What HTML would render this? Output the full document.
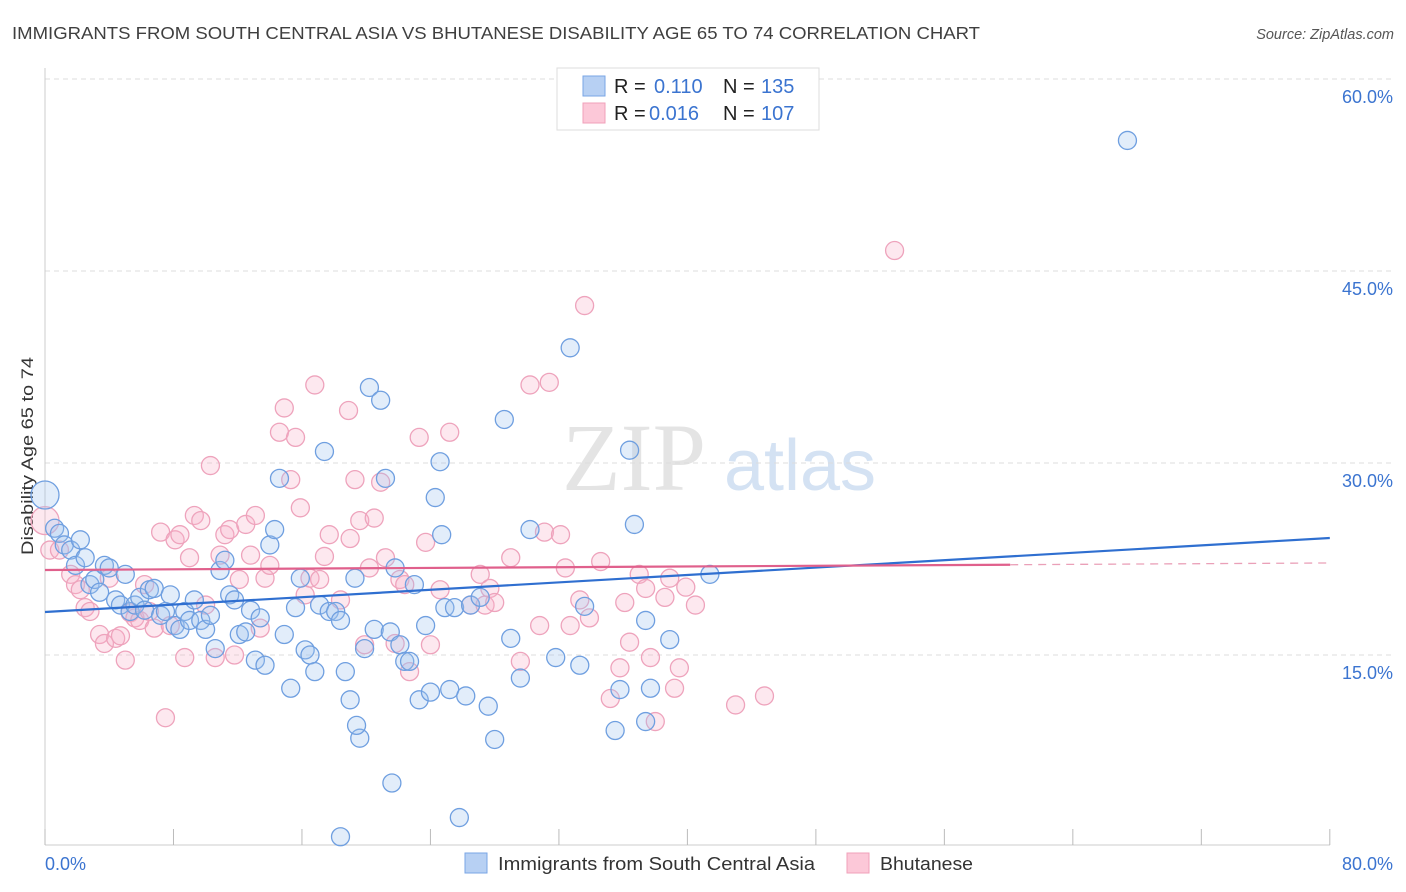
<!DOCTYPE html>
<html><head><meta charset="utf-8"><style>
body{margin:0;background:#fff;font-family:"Liberation Sans",sans-serif;}
#wrap{position:relative;width:1406px;height:892px;overflow:hidden;}
</style></head><body>
<div id="wrap">
<svg id="svg" width="1406" height="892" xmlns="http://www.w3.org/2000/svg">
<text x="12" y="39" font-size="17.5" fill="#3f3f3f" textLength="968" lengthAdjust="spacingAndGlyphs">IMMIGRANTS FROM SOUTH CENTRAL ASIA VS BHUTANESE DISABILITY AGE 65 TO 74 CORRELATION CHART</text>
<text x="1394" y="39" font-size="14.5" fill="#555" font-style="italic" text-anchor="end">Source: ZipAtlas.com</text>
<text x="634" y="490" font-size="96" fill="#e4e4e4" font-family="Liberation Serif,serif" text-anchor="middle">ZIP</text>
<text x="800" y="490" font-size="72" fill="#d4e2f3" text-anchor="middle">atlas</text>
<text transform="translate(33,456) rotate(-90)" font-size="17" fill="#333" text-anchor="middle" textLength="198" lengthAdjust="spacingAndGlyphs">Disability Age 65 to 74</text>
<g id="grid"></g><g id="pts"></g><g id="lines"></g>
<g>
<rect x="557" y="68" width="262" height="62" fill="#fff" stroke="#ddd"/>
<rect x="583" y="76" width="22" height="20" fill="#b7d0f3" stroke="#7aa6e6"/>
<rect x="583" y="103" width="22" height="20" fill="#fcc8d8" stroke="#f0a0ba"/>
<text x="614" y="93" font-size="20" fill="#222">R = </text><text x="654" y="93" font-size="20" fill="#3b74d0">0.110</text>
<text x="723" y="93" font-size="20" fill="#222">N = </text><text x="761" y="93" font-size="20" fill="#3b74d0">135</text>
<text x="614" y="120" font-size="20" fill="#222">R = </text><text x="649" y="120" font-size="20" fill="#3b74d0">0.016</text>
<text x="723" y="120" font-size="20" fill="#222">N = </text><text x="761" y="120" font-size="20" fill="#3b74d0">107</text>
</g>
<g>
<rect x="465" y="853" width="22" height="20" fill="#b7d0f3" stroke="#7aa6e6"/>
<text x="498" y="870" font-size="18" fill="#333" textLength="317" lengthAdjust="spacingAndGlyphs">Immigrants from South Central Asia</text>
<rect x="847" y="853" width="22" height="20" fill="#fcc8d8" stroke="#f0a0ba"/>
<text x="880" y="870" font-size="18" fill="#333" textLength="93" lengthAdjust="spacingAndGlyphs">Bhutanese</text>
</g>
</svg>
</div>
<script>
const blueX=[0,0.6,0.9,1.2,1.6,1.9,2.2,2.5,2.8,3.1,3.4,3.7,4.0,4.4,4.7,5.0,5.3,5.6,5.9,6.2,6.5,6.8,7.2,7.5,7.8,8.1,8.4,8.7,9.0,9.3,9.7,10.0,10.3,10.6,10.9,11.2,11.5,11.8,12.1,12.5,12.8,13.1,13.4,13.7,14.0,14.3,14.6,14.9,15.3,15.6,15.9,16.2,16.5,16.8,17.1,17.4,17.7,18.1,18.4,18.7,19.0,19.3,19.6,19.9,20.2,20.5,20.9,21.2,21.5,21.8,22.1,22.4,22.7,23.0,23.3,23.7,24.0,24.3,24.6,24.7,24.9,25.2,25.5,25.8,26.2,26.5,27.1,27.6,28.0,28.6,29.0,29.6,30.2,31.8,32.7,33.3,33.6,35.5,35.8,36.4,36.7,37.4,37.7,37.4,38.9,41.4,67.4,18.4,21.6,19.4];
const blueY=[27.5,24.9,24.5,23.6,23.2,22.0,24.0,22.6,20.5,20.9,19.9,22.0,21.8,19.3,18.9,21.3,18.4,18.9,19.5,18.5,20.1,20.2,18.1,18.4,19.7,17.3,17.0,18.4,17.7,19.3,17.7,17.0,18.1,15.5,21.6,22.4,19.7,19.3,16.6,16.8,18.5,14.6,17.9,14.2,23.6,24.8,28.8,16.6,12.4,18.7,21.0,15.4,15.0,13.7,18.9,30.9,18.4,18.4,17.7,13.7,11.5,21.0,8.5,15.5,35.9,17.0,34.9,28.8,16.8,21.8,15.8,14.5,14.5,20.5,11.5,17.3,12.1,27.3,30.1,24.4,18.7,12.3,18.7,2.3,11.8,18.9,19.5,11.0,8.4,33.4,16.3,13.2,24.8,14.8,39.0,14.2,18.8,9.1,12.3,31.0,25.2,17.7,12.4,9.8,16.2,21.3,55.2,0.8,5.0,9.5];
const pinkX=[0,0.3,0.9,1.6,1.9,2.2,2.5,2.8,3.4,3.7,4.0,4.4,4.7,5.0,5.3,5.6,5.9,6.2,6.5,6.8,7.2,7.5,7.8,8.1,8.4,8.7,9.0,9.3,9.7,10.0,10.3,10.6,10.9,11.2,11.5,11.8,12.1,12.5,12.8,13.1,13.4,13.7,14.0,14.6,14.9,15.3,15.6,15.9,16.2,16.5,16.8,17.1,17.4,17.7,18.4,18.9,19.0,19.3,19.6,19.9,20.2,20.5,20.9,21.2,21.8,22.1,22.4,22.7,23.3,23.7,24.0,24.6,25.2,26.5,27.1,27.4,27.7,28.0,29.0,29.6,30.2,30.8,31.1,31.4,32.1,32.4,32.7,33.3,33.6,33.9,34.6,35.2,35.8,36.1,36.4,37.0,37.4,37.7,38.0,38.6,38.9,39.2,39.5,39.9,40.5,43.0,44.8,52.9];
const pinkY=[25.5,23.2,23.2,21.3,20.5,20.1,18.7,18.4,16.6,15.9,21.0,16.3,16.5,14.6,18.3,17.9,17.7,20.5,18.4,17.1,24.6,10.1,17.3,24.0,24.4,14.8,22.6,25.9,25.5,18.9,29.8,14.8,22.8,24.4,24.8,15.0,20.9,25.2,22.8,25.9,17.1,21.0,22.0,32.4,34.3,28.7,32.0,26.5,19.7,21.0,36.1,20.9,22.7,24.4,19.3,34.1,24.1,28.7,25.5,15.8,21.8,25.7,28.5,22.6,15.9,20.9,20.5,13.7,32.0,23.8,15.8,20.1,32.4,18.9,21.3,18.9,20.2,19.1,22.6,14.5,36.1,17.3,24.6,36.3,24.4,21.8,17.3,19.3,42.3,17.9,22.3,11.6,14.0,19.1,16.0,21.3,20.2,14.8,9.8,19.5,21.0,12.4,14.0,20.3,18.9,11.1,11.8,46.6];
const yTicks=[15,30,45,60];
const xTickVals=[0,8,16,24,32,40,48,56,64,72,80];
const blueTrend=[18.36,24.14];
const pinkTrend=[21.64,22.19];
const pinkSolidEnd=60.1;

const NS="http://www.w3.org/2000/svg";
const xs=v=>45+v*16.06, ys=v=>847-v*12.8;
function mk(tag,attrs,parent){const e=document.createElementNS(NS,tag);for(const k in attrs)e.setAttribute(k,attrs[k]);document.getElementById(parent).appendChild(e);return e;}
yTicks.forEach(t=>{
  const l=mk('line',{x1:45,x2:1394,y1:ys(t),y2:ys(t),stroke:'#dcdcdc','stroke-dasharray':'5,4'},'grid');
  
  
  const tx=mk('text',{x:1393,y:ys(t)+24,'font-size':18,fill:'#3b74d0','text-anchor':'end'},'grid');
  tx.textContent=t.toFixed(1)+'%';
  
  
});
const ax=mk('line',{x1:45,x2:45,y1:68,y2:845,stroke:'#ccc'},'grid');


const xa=mk('line',{x1:45,x2:1330,y1:845,y2:845,stroke:'#ccc'},'grid');


xTickVals.forEach(t=>{
  const l=mk('line',{x1:xs(t),x2:xs(t),y1:829,y2:845,stroke:'#bbb'},'grid');
  
  
});
[['0.0%',45,'start'],['80.0%',1393,'end']].forEach(a=>{
  const t=mk('text',{x:a[1],y:870,'font-size':18,fill:'#3b74d0','text-anchor':a[2]},'grid');
  t.textContent=a[0];
  
  
});
function dots(X,Y,fill,stroke,name){
  X.forEach((x,i)=>{
    const c=mk('circle',{cx:xs(x),cy:ys(Y[i]),r:i===0?14:9,fill:fill,stroke:stroke,'stroke-width':1.3},'pts');
    
    
  });
}
dots(pinkX,pinkY,'rgba(248,180,202,0.3)','#eea3bc','bhutanese-point');
dots(blueX,blueY,'rgba(160,195,240,0.3)','#6f9fe0','immigrants-point');
const bl=mk('line',{x1:xs(0),y1:ys(blueTrend[0]),x2:xs(80),y2:ys(blueTrend[1]),stroke:'#2f6fd0','stroke-width':2.2},'lines');


const pe=pinkTrend[0]+(pinkTrend[1]-pinkTrend[0])*pinkSolidEnd/80;
const pl=mk('line',{x1:xs(0),y1:ys(pinkTrend[0]),x2:xs(pinkSolidEnd),y2:ys(pe),stroke:'#e0608c','stroke-width':2.2},'lines');


const pd=mk('line',{x1:xs(pinkSolidEnd),y1:ys(pe),x2:xs(80),y2:ys(pinkTrend[1]),stroke:'#eaa0b8','stroke-width':1.3,'stroke-dasharray':'8,6'},'lines');


</script>
</body></html>
